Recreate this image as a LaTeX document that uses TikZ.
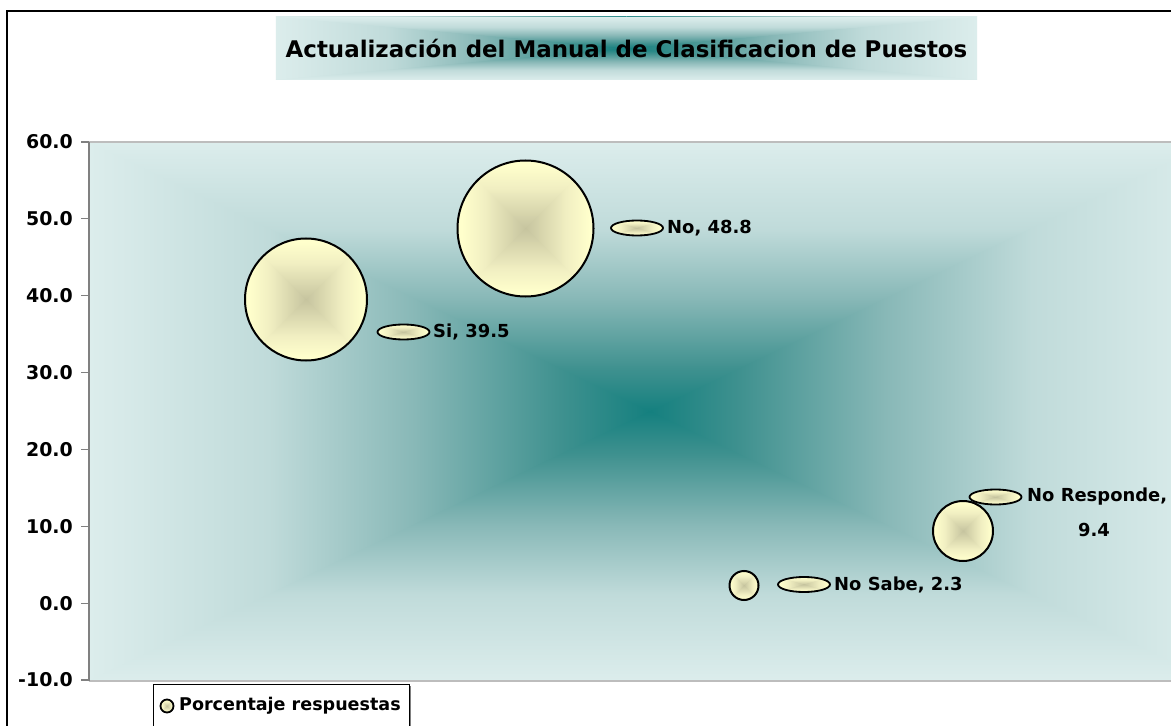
\documentclass[tikz,border=0pt]{standalone}
\usepackage{fontspec}
\setmainfont{DejaVu Sans}
\usetikzlibrary{shapes.geometric}
\definecolor{bgteal}{HTML}{15807F}
\definecolor{bg2}{HTML}{3F918F}
\definecolor{bg3}{HTML}{88B8B7}
\definecolor{bg4}{HTML}{C0DBDA}
\definecolor{bglite}{HTML}{DCEDEC}
\definecolor{bubin}{HTML}{C6C49F}
\definecolor{bub2}{HTML}{D9D7AE}
\definecolor{bub3}{HTML}{F1EFC2}
\definecolor{bubout}{HTML}{FFFFCC}
\definecolor{axgray}{HTML}{808080}
\definecolor{bordgray}{HTML}{BDBDBD}
\pgfdeclareverticalshading{plotsh}{100bp}{color(0bp)=(bgteal); color(25bp)=(bgteal);
  color(33bp)=(bg2); color(46bp)=(bg3); color(59bp)=(bg4); color(75bp)=(bglite); color(100bp)=(bglite)}
\pgfdeclareverticalshading{bubsh}{100bp}{color(0bp)=(bubin); color(25bp)=(bubin);
  color(38bp)=(bub2); color(55bp)=(bub3); color(72bp)=(bubout); color(100bp)=(bubout)}
\tikzset{
  rgrad/.style={path picture={
    \path (path picture bounding box.center) coordinate (pc)
          (path picture bounding box.north west) coordinate (pnw)
          (path picture bounding box.north east) coordinate (pne)
          (path picture bounding box.south west) coordinate (psw)
          (path picture bounding box.south east) coordinate (pse);
    \shade[shading=#1, shading angle=90] (pnw) rectangle (pc |- psw);
    \shade[shading=#1, shading angle=-90] (pc |- pne) rectangle (pse);
    \begin{scope}\clip (pc)--(pnw)--(pne)--cycle;
      \shade[shading=#1] (pnw) rectangle (pc -| pne);\end{scope}
    \begin{scope}\clip (pc)--(psw)--(pse)--cycle;
      \shade[shading=#1, shading angle=180] (pc -| psw) rectangle (pse);\end{scope}
  }},
  bubble/.style={circle, draw=black, line width=2bp, inner sep=0pt,
    minimum size=#1, rgrad=bubsh},
  keymark/.style={ellipse, draw=black, line width=1.8bp, inner sep=0pt,
    minimum width=52bp, minimum height=15bp, rgrad=bubsh},
  ticklab/.style={anchor=east, inner sep=0pt, font=\bfseries\fontsize{19}{22}\selectfont},
  datalab/.style={anchor=west, inner sep=0pt, font=\bfseries\fontsize{18}{21}\selectfont},
  tickmark/.style={draw=axgray, line width=1.2bp},
}
\begin{document}
\begin{tikzpicture}[x=1bp, y=-1bp]
  \useasboundingbox (0,0) rectangle (1171,726);
  \clip (0,0) rectangle (1171,726);
  \fill[white] (0,0) rectangle (1171,726);
  % outer chart border
  \coordinate (obl) at (7,726);
  \coordinate (otl) at (7,11);
  \coordinate (otr) at (1171,11);
  \draw[black, line width=1.2bp] (obl) -- (otl) -- (otr);
  % title
  \node[rectangle, inner sep=0pt, minimum width=701bp, minimum height=63bp,
        rgrad=plotsh,
        font=\bfseries\fontsize{23}{27}\selectfont] (title) at (626.5,48.5)
        {Actualización del Manual de Clasificacion de Puestos};
  % plot area
  \node[rectangle, inner sep=0pt, minimum width=1122bp, minimum height=539bp,
        rgrad=plotsh] (plot) at (650,411.5) {};
  \draw[bordgray, line width=2bp] (plot.north west) -- (plot.north east);
  \draw[bordgray, line width=2bp] (plot.south west) -- (plot.south east);
  \draw[axgray, line width=2bp] (plot.north west) -- (plot.south west);
  % ticks and labels
  \foreach \v/\t in {0/60.0,1/50.0,2/40.0,3/30.0,4/20.0,5/10.0,6/0.0,7/-10.0}{
    \coordinate (ta\v) at (81,142+76.86*\v);
    \coordinate (tb\v) at (89,142+76.86*\v);
    \draw[tickmark] (ta\v) -- (tb\v);
    \node[ticklab] (tl\v) at (73,142+76.86*\v) {\t};
  }
  % bubbles
  \node[bubble=122bp] (bsi) at (306,299.5) {};
  \node[bubble=136bp] (bno) at (525.5,228.5) {};
  \node[bubble=60bp] (bnr) at (963,531) {};
  \node[bubble=29bp] (bns) at (744,585.5) {};
  % data label keys and texts
  \node[keymark] (ksi) at (403.5,332) {};
  \node[datalab] (lsi) at (433,332) {Si, 39.5};
  \node[keymark] (kno) at (637,228) {};
  \node[datalab] (lno) at (667,228) {No, 48.8};
  \node[keymark] (knr) at (995.5,497) {};
  \node[datalab] (lnr) at (1027,497) {No Responde,};
  \node[anchor=center, inner sep=0pt, font=\bfseries\fontsize{18}{21}\selectfont] (lnr2) at (1094,530) {9.4};
  \node[keymark] (kns) at (804,584.5) {};
  \node[datalab] (lns) at (834,585) {No Sabe, 2.3};
  % legend
  \coordinate (lgsa) at (155,686);
  \coordinate (lgsb) at (411,730);
  \fill[axgray] (lgsa) rectangle (lgsb);
  \node[rectangle, draw=black, line width=0.8bp, fill=white, inner sep=0pt,
        minimum width=256bp, minimum height=42bp] (legend) at (281,705) {};
  \node[circle, draw=black, line width=1.8bp, inner sep=0pt, minimum size=13bp,
        rgrad=bubsh] (lgkey) at (167,706) {};
  \node[anchor=west, inner sep=0pt, font=\bfseries\fontsize{17.6}{20}\selectfont] (lgtext) at (179,706) {Porcentaje respuestas};
\end{tikzpicture}
\end{document}
